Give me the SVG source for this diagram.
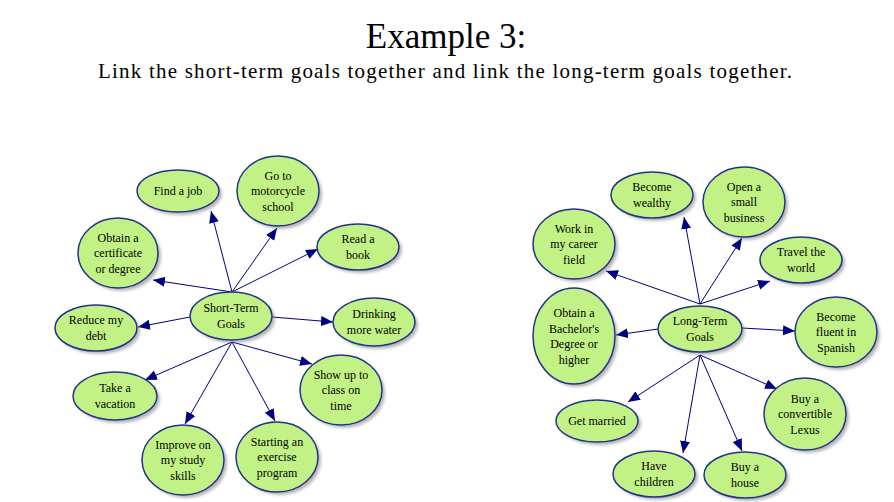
<svg xmlns="http://www.w3.org/2000/svg" width="894" height="502" viewBox="0 0 894 502" font-family="'Liberation Serif', 'DejaVu Serif', 'Times New Roman', serif">
<style>
.title{font-family:'Liberation Serif','DejaVu Serif',serif;fill:#000;text-anchor:middle}
.n ellipse.b{fill:#c2f285;stroke:#22338a;stroke-width:1.5}
.n ellipse.s{fill:#7a7a7a;opacity:0.55;filter:url(#blur)}
.n text{font-family:'Liberation Serif','DejaVu Serif',serif;font-size:12px;fill:#000;text-anchor:middle}
.c line{stroke:#000080;stroke-width:1;marker-end:url(#ah)}
</style>
<defs>
<filter id="blur" x="-20%" y="-20%" width="140%" height="140%"><feGaussianBlur stdDeviation="1.5"/></filter>
<marker id="ah" markerUnits="userSpaceOnUse" markerWidth="13" markerHeight="11" refX="12" refY="5" orient="auto"><path d="M0,0 L12,5 L0,10 z" fill="#000080"/></marker>
</defs>
<rect width="894" height="502" fill="#fff"/>
<text class="title" x="446" y="48" font-size="35">Example 3:</text>
<text class="title" x="445" y="78" font-size="21" textLength="694">Link the short-term goals together and link the long-term goals together.</text>

<g id="connectors" class="c">
<line x1="232" y1="292" x2="211" y2="211"/>
<line x1="232" y1="292" x2="277" y2="228"/>
<line x1="232" y1="292" x2="318" y2="249"/>
<line x1="232" y1="292" x2="153" y2="280"/>
<line x1="272" y1="317" x2="333" y2="322"/>
<line x1="190" y1="317" x2="138" y2="327"/>
<line x1="232" y1="342" x2="145" y2="380"/>
<line x1="232" y1="342" x2="185" y2="424"/>
<line x1="232" y1="342" x2="275" y2="421"/>
<line x1="232" y1="342" x2="312" y2="364"/>
<line x1="700" y1="304" x2="684" y2="217"/>
<line x1="700" y1="304" x2="742" y2="238"/>
<line x1="700" y1="304" x2="770" y2="281"/>
<line x1="700" y1="304" x2="606" y2="271"/>
<line x1="742" y1="328" x2="795" y2="331"/>
<line x1="658" y1="329" x2="616" y2="335"/>
<line x1="700" y1="355" x2="628" y2="402"/>
<line x1="700" y1="355" x2="683" y2="453"/>
<line x1="700" y1="355" x2="742" y2="451"/>
<line x1="700" y1="355" x2="777" y2="389"/>
</g>

<g id="short-term" class="n"><ellipse class="s" cx="234" cy="319" rx="41" ry="24"/><ellipse class="b" cx="231" cy="316" rx="41" ry="24"/><text x="231" y="312">Short-Term</text><text x="231" y="328">Goals</text></g>
<g id="find-job" class="n"><ellipse class="s" cx="181" cy="194" rx="41" ry="21"/><ellipse class="b" cx="178" cy="191" rx="41" ry="21"/><text x="178" y="195">Find a job</text></g>
<g id="motorcycle" class="n"><ellipse class="s" cx="281" cy="194" rx="41" ry="35"/><ellipse class="b" cx="278" cy="191" rx="41" ry="35"/><text x="278" y="179.5">Go to</text><text x="278" y="195">motorcycle</text><text x="278" y="210.5">school</text></g>
<g id="read-book" class="n"><ellipse class="s" cx="361" cy="250" rx="41" ry="23"/><ellipse class="b" cx="358" cy="247" rx="41" ry="23"/><text x="358" y="243">Read a</text><text x="358" y="259">book</text></g>
<g id="drinking" class="n"><ellipse class="s" cx="377" cy="325" rx="41" ry="24"/><ellipse class="b" cx="374" cy="322" rx="41" ry="24"/><text x="374" y="318">Drinking</text><text x="374" y="334">more water</text></g>
<g id="certificate" class="n"><ellipse class="s" cx="121" cy="256" rx="40" ry="35"/><ellipse class="b" cx="118" cy="253" rx="40" ry="35"/><text x="118" y="241.5">Obtain a</text><text x="118" y="257">certificate</text><text x="118" y="272.5">or degree</text></g>
<g id="reduce-debt" class="n"><ellipse class="s" cx="99" cy="331" rx="41" ry="23"/><ellipse class="b" cx="96" cy="328" rx="41" ry="23"/><text x="96" y="324">Reduce my</text><text x="96" y="340">debt</text></g>
<g id="vacation" class="n"><ellipse class="s" cx="118" cy="399" rx="42" ry="24"/><ellipse class="b" cx="115" cy="396" rx="42" ry="24"/><text x="115" y="392">Take a</text><text x="115" y="408">vacation</text></g>
<g id="study-skills" class="n"><ellipse class="s" cx="186" cy="463" rx="41" ry="35"/><ellipse class="b" cx="183" cy="460" rx="41" ry="35"/><text x="183" y="448.5">Improve on</text><text x="183" y="464">my study</text><text x="183" y="479.5">skills</text></g>
<g id="exercise" class="n"><ellipse class="s" cx="280" cy="460" rx="41" ry="35"/><ellipse class="b" cx="277" cy="457" rx="41" ry="35"/><text x="277" y="445.5">Starting an</text><text x="277" y="461">exercise</text><text x="277" y="476.5">program</text></g>
<g id="show-up" class="n"><ellipse class="s" cx="344" cy="393" rx="41" ry="35"/><ellipse class="b" cx="341" cy="390" rx="41" ry="35"/><text x="341" y="378.5">Show up to</text><text x="341" y="394">class on</text><text x="341" y="409.5">time</text></g>

<g id="long-term" class="n"><ellipse class="s" cx="703" cy="332" rx="42" ry="23"/><ellipse class="b" cx="700" cy="329" rx="42" ry="23"/><text x="700" y="325">Long-Term</text><text x="700" y="341">Goals</text></g>
<g id="wealthy" class="n"><ellipse class="s" cx="655" cy="198" rx="41" ry="23"/><ellipse class="b" cx="652" cy="195" rx="41" ry="23"/><text x="652" y="191">Become</text><text x="652" y="207">wealthy</text></g>
<g id="business" class="n"><ellipse class="s" cx="747" cy="205" rx="41" ry="35"/><ellipse class="b" cx="744" cy="202" rx="41" ry="35"/><text x="744" y="190.5">Open a</text><text x="744" y="206">small</text><text x="744" y="221.5">business</text></g>
<g id="travel" class="n"><ellipse class="s" cx="804" cy="263" rx="41" ry="23"/><ellipse class="b" cx="801" cy="260" rx="41" ry="23"/><text x="801" y="256">Travel the</text><text x="801" y="272">world</text></g>
<g id="spanish" class="n"><ellipse class="s" cx="839" cy="335" rx="41" ry="35"/><ellipse class="b" cx="836" cy="332" rx="41" ry="35"/><text x="836" y="320.5">Become</text><text x="836" y="336">fluent in</text><text x="836" y="351.5">Spanish</text></g>
<g id="career" class="n"><ellipse class="s" cx="577" cy="247" rx="41" ry="35"/><ellipse class="b" cx="574" cy="244" rx="41" ry="35"/><text x="574" y="232.5">Work in</text><text x="574" y="248">my career</text><text x="574" y="263.5">field</text></g>
<g id="bachelor" class="n"><ellipse class="s" cx="577" cy="339" rx="41" ry="48"/><ellipse class="b" cx="574" cy="336" rx="41" ry="48"/><text x="574" y="317">Obtain a</text><text x="574" y="332.5">Bachelor's</text><text x="574" y="348">Degree or</text><text x="574" y="363.5">higher</text></g>
<g id="married" class="n"><ellipse class="s" cx="600" cy="424" rx="41" ry="21"/><ellipse class="b" cx="597" cy="421" rx="41" ry="21"/><text x="597" y="425">Get married</text></g>
<g id="children" class="n"><ellipse class="s" cx="657" cy="477" rx="41" ry="23"/><ellipse class="b" cx="654" cy="474" rx="41" ry="23"/><text x="654" y="470">Have</text><text x="654" y="486">children</text></g>
<g id="house" class="n"><ellipse class="s" cx="748" cy="478" rx="41" ry="23"/><ellipse class="b" cx="745" cy="475" rx="41" ry="23"/><text x="745" y="471">Buy a</text><text x="745" y="487">house</text></g>
<g id="lexus" class="n"><ellipse class="s" cx="808" cy="417" rx="41" ry="36"/><ellipse class="b" cx="805" cy="414" rx="41" ry="36"/><text x="805" y="402.5">Buy a</text><text x="805" y="418">convertible</text><text x="805" y="433.5">Lexus</text></g>
</svg>
